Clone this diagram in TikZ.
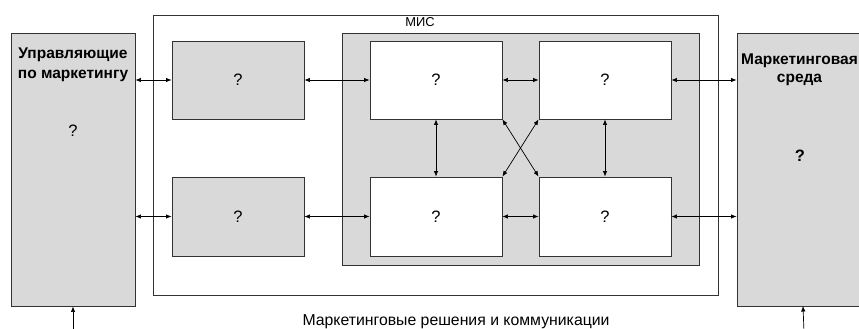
\documentclass[tikz,border=0pt]{standalone}
\usepackage{fontspec}
\setmainfont{Liberation Sans}
\usetikzlibrary{arrows.meta}
\definecolor{boxgray}{HTML}{D9D9D9}
\definecolor{edge}{HTML}{333333}
\tikzset{
  graybox/.style={draw=edge, fill=boxgray, line width=0.9pt, inner sep=0pt},
  whitebox/.style={draw=edge, fill=white, line width=0.9pt, inner sep=0pt},
  framebox/.style={draw=edge, line width=0.9pt, inner sep=0pt},
  conn/.style={draw=black, line width=0.7pt, {Latex[length=5.5pt,width=4.5pt]}-{Latex[length=5.5pt,width=4.5pt]}},
  upconn/.style={draw=black, line width=0.7pt, -{Latex[length=5.5pt,width=4.5pt]}},
  lbl/.style={font=\fontsize{15.8}{18}\selectfont, anchor=base, inner sep=0pt},
  blbl/.style={font=\fontsize{15.5}{18}\selectfont\bfseries, anchor=base, inner sep=0pt},
  qm/.style={font=\fontsize{16.5}{19}\selectfont, anchor=base, inner sep=0pt}
}
\begin{document}
\begin{tikzpicture}[x=1pt,y=-1pt]
\useasboundingbox[fill=white] (0,0) rectangle (859,329);
% outer boxes
\node[graybox, minimum width=124pt, minimum height=273pt] (L) at (73,169.5) {};
\node[graybox, minimum width=125pt, minimum height=273pt] (R) at (799.5,169.5) {};
\node[framebox, minimum width=565pt, minimum height=280pt] (MIS) at (435.5,155) {};
\node[graybox, minimum width=357pt, minimum height=232pt] (G) at (520.5,149) {};
% inner boxes
\node[graybox, minimum width=132pt, minimum height=78pt] (A1) at (238,80) {};
\node[graybox, minimum width=132pt, minimum height=79pt] (A2) at (238,216.5) {};
\node[whitebox, minimum width=132pt, minimum height=78pt] (B1) at (436,80) {};
\node[whitebox, minimum width=132pt, minimum height=79pt] (B2) at (436,216.5) {};
\node[whitebox, minimum width=132pt, minimum height=78pt] (C1) at (605,80) {};
\node[whitebox, minimum width=132pt, minimum height=79pt] (C2) at (605,216.5) {};
% texts
\node[blbl] (l1) at (73,59) {Управляющие};
\node[blbl] (l2) at (73,78) {по маркетингу};
\node[qm] (lq) at (73,136) {?};
\node[blbl] (r1) at (799.5,65) {Маркетинговая};
\node[blbl] (r2) at (799.5,82) {среда};
\node[qm, font=\fontsize{16.5}{19}\selectfont\bfseries] (rq) at (800,161) {?};
\node[lbl, font=\fontsize{12.9}{15}\selectfont] (misl) at (420,27) {МИС};
\node[qm] (qa1) at (A1.center) [anchor=center] {?};
\node[qm] (qa2) at (A2.center) [anchor=center] {?};
\node[qm] (qb1) at (B1.center) [anchor=center] {?};
\node[qm] (qb2) at (B2.center) [anchor=center] {?};
\node[qm] (qc1) at (C1.center) [anchor=center] {?};
\node[qm] (qc2) at (C2.center) [anchor=center] {?};
\node[lbl] (bot) at (456,325) {Маркетинговые решения и коммуникации};
% connectors
\draw[conn] (L.east |- A1.west) -- (A1.west);
\draw[conn] (L.east |- A2.west) -- (A2.west);
\draw[conn] (A1.east) -- (B1.west);
\draw[conn] (A2.east) -- (B2.west);
\draw[conn] (B1.east) -- (C1.west);
\draw[conn] (B2.east) -- (C2.west);
\draw[conn] (C1.east) -- (R.west |- C1.east);
\draw[conn] (C2.east) -- (R.west |- C2.east);
\draw[conn] (B1.south) -- (B2.north);
\draw[conn] (C1.south) -- (C2.north);
\draw[conn] (B1.south east) -- (C2.north west);
\draw[conn] (C1.south west) -- (B2.north east);
\coordinate (lb) at (73,332);
\coordinate (rb) at (804,332);
\coordinate (rt) at (803,306);
\draw[upconn] (lb) -- (L.south);
\draw[upconn] (rb) -- (rt);
\end{tikzpicture}
\end{document}
